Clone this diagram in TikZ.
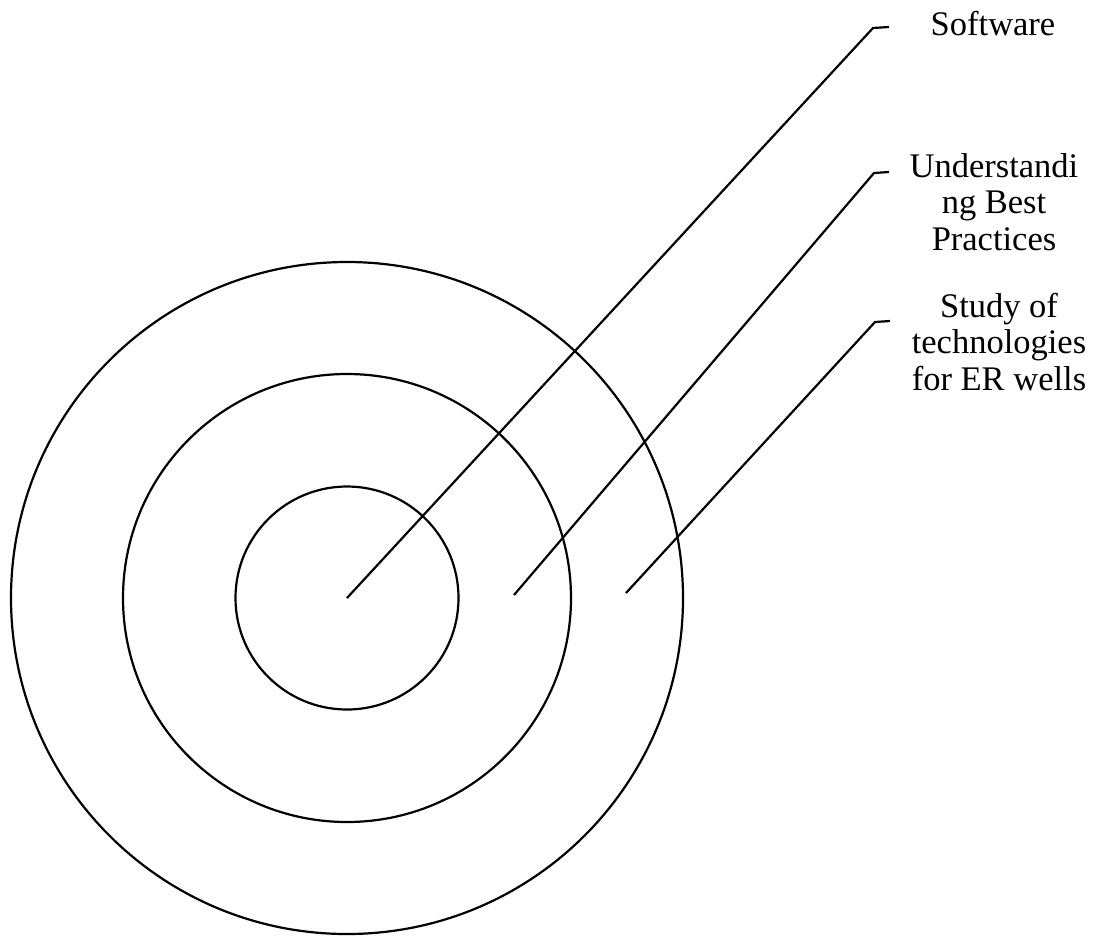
\documentclass[tikz,border=0pt]{standalone}
\usepackage{fontspec}
\setmainfont{Liberation Serif}
\begin{document}
\begin{tikzpicture}[x=1pt,y=-1pt,
  ring/.style={draw=black,line width=2.2pt},
  leader/.style={draw=black,line width=2.2pt,line join=miter},
  lbl/.style={font=\fontsize{34.5}{36.5}\selectfont,align=center,anchor=base,inner sep=0pt}]
\useasboundingbox (0,0) rectangle (1094,938);
% rings
\coordinate (c) at (347,598);
\draw[ring] (c) circle[radius=336];
\draw[ring] (c) circle[radius=224];
\draw[ring] (c) circle[radius=111.5];
% leader points
\coordinate (p1) at (347,598);
\coordinate (k1) at (873,28);
\coordinate (t1) at (889,27);
\coordinate (p2) at (514,595);
\coordinate (k2) at (874,173);
\coordinate (t2) at (889,172);
\coordinate (p3) at (626,593);
\coordinate (k3) at (875,322);
\coordinate (t3) at (890,321);
\draw[leader] (p1) -- (k1) -- (t1);
\draw[leader] (p2) -- (k2) -- (t2);
\draw[leader] (p3) -- (k3) -- (t3);
% labels (base anchor = baseline of last line)
\node[lbl] (soft) at (993,35) {Software};
\node[lbl] (best) at (994,250) {Understandi\\ng Best\\Practices};
\node[lbl] (study) at (999,390) {Study of\\technologies\\for ER wells};
\end{tikzpicture}
\end{document}
